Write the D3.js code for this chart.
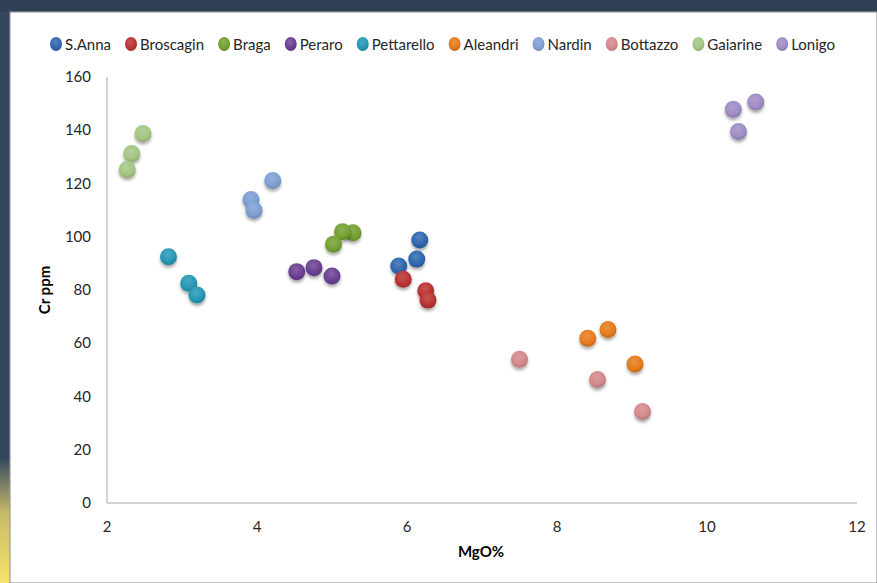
<!DOCTYPE html>
<html><head><meta charset="utf-8">
<script src="https://cdn.jsdelivr.net/npm/d3@7"></script>
<style>
html,body{margin:0;padding:0;background:#2f3f56;}
svg{display:block;}
</style></head>
<body>
<svg id="chart" width="877" height="583"></svg>
<script>
const seriesNames = ["S.Anna","Broscagin","Braga","Peraro","Pettarello","Aleandri","Nardin","Bottazzo","Gaiarine","Lonigo"];
const seriesColors = ["#2e66ae","#b93131","#74a031","#6a3f92","#2496b4","#e57a1a","#7d9fd3","#d4888a","#a3c683","#9f8cc4"];
const sAnna = [[6.17,98.8],[6.13,91.6],[5.89,89.0]];
const broscagin = [[5.95,84.0],[6.25,79.7],[6.28,76.2]];
const braga = [[5.28,101.5],[5.14,101.9],[5.02,97.2]];
const peraro = [[4.53,86.9],[4.76,88.4],[5.00,85.3]];
const pettarello = [[2.82,92.5],[3.09,82.5],[3.20,78.1]];
const aleandri = [[8.41,61.9],[8.68,65.2],[9.04,52.2]];
const nardin = [[4.21,121.1],[3.92,114.0],[3.96,110.0]];
const bottazzo = [[7.50,54.0],[8.54,46.4],[9.14,34.4]];
const gaiarine = [[2.48,138.8],[2.33,131.3],[2.27,125.3]];
const lonigo = [[10.65,150.6],[10.35,147.9],[10.42,139.5]];
const seriesData = [sAnna,broscagin,braga,peraro,pettarello,aleandri,nardin,bottazzo,gaiarine,lonigo];
const xTicks = [2,4,6,8,10,12];
const yTicks = [0,20,40,60,80,100,120,140,160];

const svg = d3.select("#chart");
const defs = svg.append("defs");
// left strip gradient
const lg = defs.append("linearGradient").attr("id","strip").attr("x1",0).attr("y1",0).attr("x2",0).attr("y2",1);
lg.append("stop").attr("offset","0%").attr("stop-color","#34465e");
lg.append("stop").attr("offset","78%").attr("stop-color","#34465e");
lg.append("stop").attr("offset","88%").attr("stop-color","#c9bc6a");
lg.append("stop").attr("offset","100%").attr("stop-color","#f7e36c");
svg.append("rect").attr("x",0).attr("y",0).attr("width",877).attr("height",583).attr("fill","#2f3f56");
svg.append("rect").attr("x",0).attr("y",12).attr("width",10).attr("height",571).attr("fill","url(#strip)");
svg.append("rect").attr("x",10).attr("y",12).attr("width",867).attr("height",571).attr("fill","#ffffff")
  .attr("stroke","#9a9a9a").attr("stroke-width",1.2);

const flt = defs.append("filter").attr("id","shadow").attr("x","-50%").attr("y","-50%").attr("width","200%").attr("height","200%");
flt.append("feDropShadow").attr("dx",0).attr("dy",2.5).attr("stdDeviation",1.6).attr("flood-color","#000").attr("flood-opacity",0.35);

seriesColors.forEach((c,i)=>{
  const g = defs.append("radialGradient").attr("id","grad"+i).attr("cx","45%").attr("cy","35%").attr("r","65%");
  g.append("stop").attr("offset","0%").attr("stop-color",d3.interpolateRgb(c,"#ffffff")(0.18));
  g.append("stop").attr("offset","70%").attr("stop-color",c);
  g.append("stop").attr("offset","100%").attr("stop-color",d3.interpolateRgb(c,"#000000")(0.15));
});

const x = d3.scaleLinear().domain([2,12]).range([107,857]);
const y = d3.scaleLinear().domain([0,160]).range([503,77]);
const font = "Lato, 'Open Sans', sans-serif";

// axes lines
svg.append("line").attr("x1",x(2)).attr("x2",x(2)).attr("y1",y(160)).attr("y2",y(0)).attr("stroke","#a6a6a6").attr("stroke-width",1);
svg.append("line").attr("x1",x(2)).attr("x2",x(12)).attr("y1",y(0)).attr("y2",y(0)).attr("stroke","#a6a6a6").attr("stroke-width",1);

svg.selectAll(".xt").data(xTicks).enter().append("text")
  .attr("x",d=>x(d)).attr("y",y(0)+29).attr("text-anchor","middle")
  .attr("font-family",font).attr("font-size",15).attr("fill","#262626").text(d=>d);
svg.selectAll(".yt").data(yTicks).enter().append("text")
  .attr("x",x(2)-16).attr("y",d=>y(d)+5).attr("text-anchor","end")
  .attr("font-family",font).attr("font-size",15).attr("fill","#262626").text(d=>d);

svg.append("text").attr("x",481).attr("y",557).attr("text-anchor","middle")
  .attr("font-family",font).attr("font-size",15).attr("font-weight","bold").attr("fill","#000").text("MgO%");
svg.append("text").attr("transform","translate(50,290) rotate(-90)").attr("text-anchor","middle")
  .attr("font-family",font).attr("font-size",15).attr("font-weight","bold").attr("fill","#000").text("Cr ppm");

// points
seriesData.forEach((pts,i)=>{
  svg.append("g").selectAll("circle").data(pts).enter().append("circle")
    .attr("cx",d=>x(d[0])).attr("cy",d=>y(d[1])).attr("r",8.5)
    .attr("fill","url(#grad"+i+")").attr("filter","url(#shadow)");
});

// legend
const leg = svg.append("g");
const tmp = svg.append("text").attr("font-family",font).attr("font-size",15);
const widths = seriesNames.map(n=>{tmp.text(n);return tmp.node().getComputedTextLength();});
tmp.remove();
const startX = 50, endX = 834;
const natural = d3.sum(widths) + seriesNames.length*14;
const gap = (endX-startX-natural)/(seriesNames.length-1);
let cx = startX;
seriesNames.forEach((n,i)=>{
  leg.append("ellipse").attr("cx",cx+6).attr("cy",44).attr("rx",6).attr("ry",7).attr("fill","url(#grad"+i+")");
  leg.append("text").attr("x",cx+15).attr("y",49.5).attr("font-family",font).attr("font-size",15).attr("fill","#262626").text(n);
  cx += 14 + widths[i] + gap;
});
</script>
</body></html>
